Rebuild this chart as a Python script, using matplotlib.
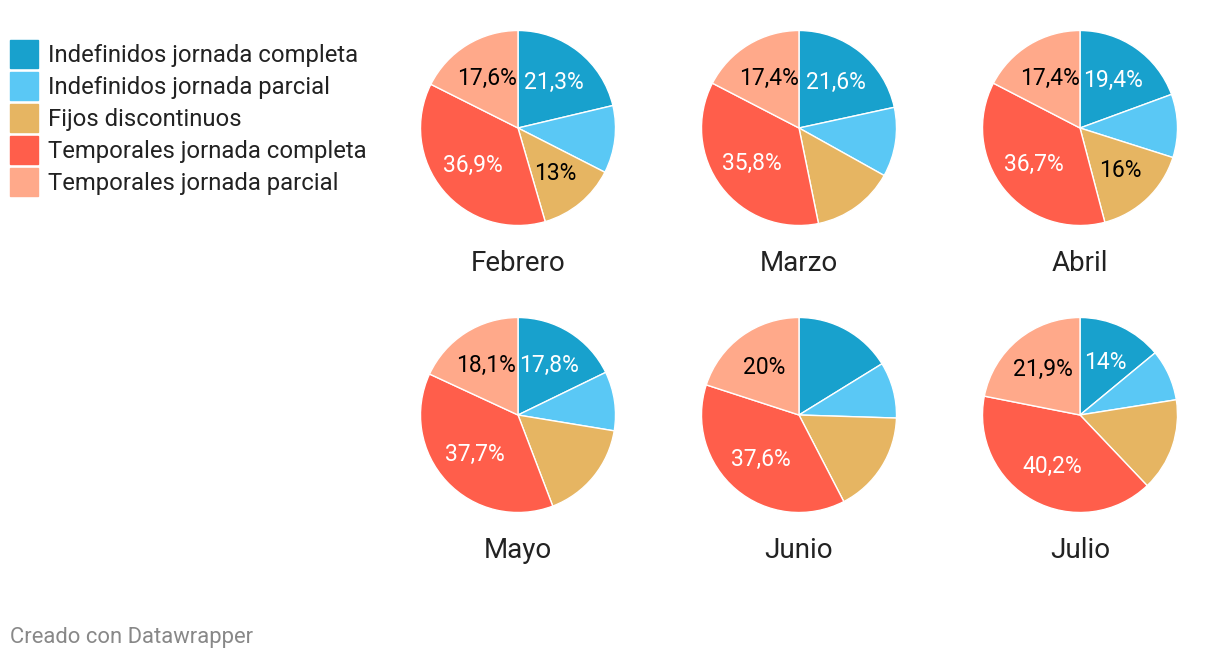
import matplotlib
matplotlib.use('Agg')
import matplotlib.pyplot as plt
import matplotlib.patches as mpatches
import numpy as np

plt.rcParams['font.family'] = ['Roboto', 'DejaVu Sans']

# Categorías y colores
categorias = ['Indefinidos jornada completa', 'Indefinidos jornada parcial',
              'Fijos discontinuos', 'Temporales jornada completa',
              'Temporales jornada parcial']
colores = ['#18a1cd', '#5ac8f5', '#e6b562', '#ff5e4b', '#ffa98a']
color_texto = ['white', 'black', 'black', 'white', 'black']

meses = ['Febrero', 'Marzo', 'Abril', 'Mayo', 'Junio', 'Julio']

# Porcentajes por mes (orden de categorias)
febrero = [21.3, 11.2, 13.0, 36.9, 17.6]
marzo = [21.6, 11.5, 13.7, 35.8, 17.4]
abril = [19.4, 10.5, 16.0, 36.7, 17.4]
mayo = [17.8, 9.8, 16.6, 37.7, 18.1]
junio = [16.2, 9.3, 16.9, 37.6, 20.0]
julio = [14.0, 8.5, 15.4, 40.2, 21.9]
valores = [febrero, marzo, abril, mayo, junio, julio]

# Qué etiquetas se muestran en cada tarta
mostrar = [
    [True, False, True, True, True],
    [True, False, False, True, True],
    [True, False, True, True, True],
    [True, False, False, True, True],
    [False, False, False, True, True],
    [True, False, False, True, True],
]

W, H = 1220, 660
fig = plt.figure(figsize=(W / 100, H / 100), dpi=100)

def fmt(v):
    s = f'{v:.1f}'.rstrip('0').rstrip('.')
    return s.replace('.', ',') + '%'

centros_x = [518, 799, 1080]
centros_y = [128, 415]
radio = 97.5

for i, (mes, vals) in enumerate(zip(meses, valores)):
    cx = centros_x[i % 3]
    cy = centros_y[i // 3]
    ax = fig.add_axes([(cx - radio) / W, 1 - (cy + radio) / H, 2 * radio / W, 2 * radio / H])
    wedges, _ = ax.pie(vals, colors=colores, startangle=90, counterclock=False,
                       radius=1, wedgeprops=dict(edgecolor='white', linewidth=1))
    ax.set_xlim(-1, 1)
    ax.set_ylim(-1, 1)
    ax.set_aspect('equal')
    ax.axis('off')
    for j, w in enumerate(wedges):
        if not mostrar[i][j]:
            continue
        ang = np.deg2rad((w.theta1 + w.theta2) / 2)
        ax.text(0.6 * np.cos(ang), 0.6 * np.sin(ang), fmt(vals[j]),
                ha='center', va='center', fontsize=16.5, color=color_texto[j])
    ax.text(0, -1.39, mes, ha='center', va='center', fontsize=20, color='#222222')

# Leyenda
for k, (cat, col) in enumerate(zip(categorias, colores)):
    y = 54 + 32 * k
    fig.patches.append(mpatches.Rectangle((10 / W, 1 - (y + 14) / H), 28 / W, 28 / H,
                                          transform=fig.transFigure, color=col))
    fig.text(48 / W, 1 - (y + 1.5) / H, cat, ha='left', va='center', fontsize=17.2,
             color='#222222')

fig.text(10 / W, 1 - 638 / H, 'Creado con Datawrapper', ha='left', va='center',
         fontsize=15.8, color='#888888')

fig.savefig('out.png', dpi=100)
